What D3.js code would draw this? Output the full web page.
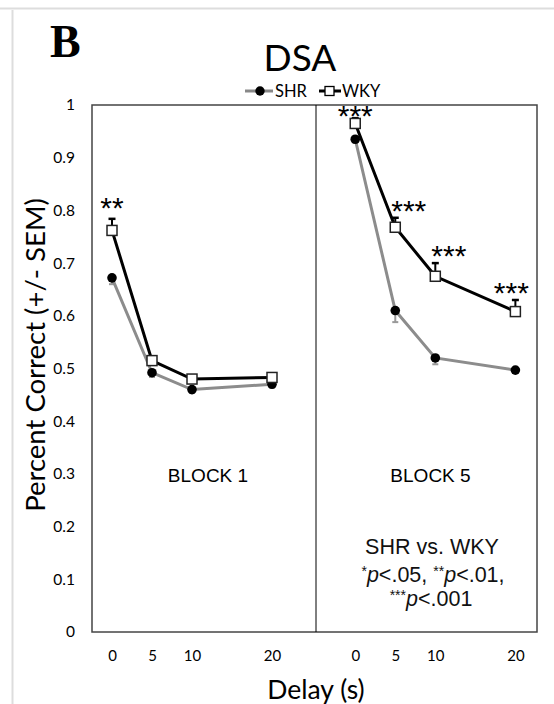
<!DOCTYPE html>
<html>
<head>
<meta charset="utf-8">
<script src="https://cdn.jsdelivr.net/npm/d3@7"></script>
<style>
  body { margin: 0; background: #fff; }
  svg { display: block; }
</style>
</head>
<body>
<script>
// data
const delays = [0, 5, 10, 20];
const blockNames = ["BLOCK 1", "BLOCK 5"];
const shrMean = [[0.672, 0.492, 0.460, 0.470], [0.935, 0.610, 0.520, 0.497]];
const shrSem  = [[0.012, 0.008, 0.006, 0.006], [0.006, 0.022, 0.012, 0.005]];
const wkyMean = [[0.762, 0.515, 0.480, 0.483], [0.965, 0.768, 0.675, 0.608]];
const wkySem  = [[0.022, 0.008, 0.005, 0.005], [0.010, 0.018, 0.025, 0.022]];
const yTicks = [0, 0.1, 0.2, 0.3, 0.4, 0.5, 0.6, 0.7, 0.8, 0.9, 1];
// significance marks: block, delay index, text
const sigMarks = [
  {block: 0, i: 0, text: "**"},
  {block: 1, i: 0, text: "***"},
  {block: 1, i: 1, text: "***"},
  {block: 1, i: 2, text: "***"},
  {block: 1, i: 3, text: "***"}
];

const width = 554, height = 704;
const calibri = "Lato, 'Open Sans', sans-serif";
const arial = "'Liberation Sans', Arial, sans-serif";

const svg = d3.select("body").append("svg")
  .attr("width", width)
  .attr("height", height);

// page frame
svg.append("line").attr("x1", 0).attr("x2", width).attr("y1", 8.5).attr("y2", 8.5)
  .attr("stroke", "#ddd").attr("stroke-width", 2);
svg.append("line").attr("x1", 12.5).attr("x2", 12.5).attr("y1", 10).attr("y2", height)
  .attr("stroke", "#ddd").attr("stroke-width", 2);

const plotTop = 105, plotBottom = 632, plotLeft = 92, plotMid = 316, plotRight = 537;

const y = d3.scaleLinear().domain([0, 1]).range([plotBottom, plotTop]);
const xs = [
  d3.scaleLinear().domain([-2.5, 25.5]).range([plotLeft, plotMid]),
  d3.scaleLinear().domain([-4.9, 22.7]).range([plotMid, plotRight])
];

// panel "B" letter + title
svg.append("text").attr("x", 50).attr("y", 57)
  .attr("font-family", "'Liberation Serif', 'DejaVu Serif', serif")
  .attr("font-weight", "bold").attr("font-size", 46).text("B");

svg.append("text").attr("x", 300).attr("y", 71).attr("text-anchor", "middle")
  .attr("font-family", calibri).attr("font-size", 37).text("DSA");

// legend
const legend = svg.append("g").attr("transform", "translate(0,91)");
legend.append("line").attr("x1", 245).attr("x2", 273).attr("stroke", "#888").attr("stroke-width", 3);
legend.append("circle").attr("cx", 260).attr("r", 4.7).attr("fill", "#000");
legend.append("text").attr("x", 275).attr("y", 6).attr("font-family", calibri).attr("font-size", 16.5).text("SHR");
legend.append("line").attr("x1", 319).attr("x2", 341).attr("stroke", "#000").attr("stroke-width", 3);
legend.append("rect").attr("x", 325).attr("y", -4.5).attr("width", 9).attr("height", 9)
  .attr("fill", "#fff").attr("stroke", "#000").attr("stroke-width", 1.3);
legend.append("text").attr("x", 342).attr("y", 6).attr("font-family", calibri).attr("font-size", 16.5).text("WKY");

// plot frame
svg.append("rect").attr("x", plotLeft).attr("y", plotTop)
  .attr("width", plotRight - plotLeft).attr("height", plotBottom - plotTop)
  .attr("fill", "none").attr("stroke", "#444").attr("stroke-width", 1.5);
svg.append("line").attr("x1", plotMid).attr("x2", plotMid).attr("y1", plotTop).attr("y2", plotBottom)
  .attr("stroke", "#000").attr("stroke-width", 1);

// y axis
const yAxis = d3.axisLeft(y).tickValues(yTicks).tickSize(0).tickPadding(17)
  .tickFormat(d => d === 0 || d === 1 ? String(d) : d.toFixed(1));
svg.append("g").attr("transform", `translate(${plotLeft},0)`).call(yAxis)
  .call(g => g.select(".domain").remove())
  .call(g => g.selectAll("text").attr("font-family", calibri).attr("font-size", 15.5).attr("fill", "#000"));

svg.append("text").attr("transform", "translate(45,355) rotate(-90)")
  .attr("text-anchor", "middle").attr("font-family", calibri).attr("font-size", 27.5)
  .text("Percent Correct (+/- SEM)");

// x axes
xs.forEach(x => {
  const xAxis = d3.axisBottom(x).tickValues(delays).tickSize(0).tickPadding(18);
  svg.append("g").attr("transform", `translate(0,${plotBottom})`).call(xAxis)
    .call(g => g.select(".domain").remove())
    .call(g => g.selectAll("text").attr("font-family", calibri).attr("font-size", 15).attr("fill", "#000"));
});

svg.append("text").attr("x", 316).attr("y", 699).attr("text-anchor", "middle")
  .attr("font-family", calibri).attr("font-size", 26.5).text("Delay (s)");

// series
const line = d3.line();
blockNames.forEach((name, b) => {
  const x = xs[b];
  const shrPts = delays.map((d, i) => [x(d), y(shrMean[b][i])]);
  const wkyPts = delays.map((d, i) => [x(d), y(wkyMean[b][i])]);

  // SHR error bars (downward)
  delays.forEach((d, i) => {
    const yb = y(shrMean[b][i] - shrSem[b][i]);
    svg.append("line").attr("x1", x(d)).attr("x2", x(d))
      .attr("y1", y(shrMean[b][i])).attr("y2", yb).attr("stroke", "#999").attr("stroke-width", 2);
    svg.append("line").attr("x1", x(d) - 3).attr("x2", x(d) + 3).attr("y1", yb).attr("y2", yb)
      .attr("stroke", "#999").attr("stroke-width", 2);
  });

  svg.append("path").attr("d", line(shrPts)).attr("fill", "none")
    .attr("stroke", "#8c8c8c").attr("stroke-width", 3);

  // WKY error bars (upward)
  delays.forEach((d, i) => {
    const yt = y(wkyMean[b][i] + wkySem[b][i]);
    svg.append("line").attr("x1", x(d)).attr("x2", x(d))
      .attr("y1", y(wkyMean[b][i])).attr("y2", yt).attr("stroke", "#000").attr("stroke-width", 2);
    svg.append("line").attr("x1", x(d) - 3.5).attr("x2", x(d) + 3.5).attr("y1", yt).attr("y2", yt)
      .attr("stroke", "#000").attr("stroke-width", 2.5);
  });

  svg.append("path").attr("d", line(wkyPts)).attr("fill", "none")
    .attr("stroke", "#000").attr("stroke-width", 3);

  svg.selectAll(null).data(shrPts).enter().append("circle")
    .attr("cx", p => p[0]).attr("cy", p => p[1]).attr("r", 4.8).attr("fill", "#000");

  svg.selectAll(null).data(wkyPts).enter().append("rect")
    .attr("x", p => p[0] - 5).attr("y", p => p[1] - 5).attr("width", 10).attr("height", 10)
    .attr("fill", "#fff").attr("stroke", "#222").attr("stroke-width", 1.5);

  const [r0, r1] = x.range();
  svg.append("text").attr("x", (r0 + r1) / 2 + 4).attr("y", 482).attr("text-anchor", "middle")
    .attr("font-family", arial).attr("font-size", 19).text(name);
});

// significance asterisks, above the WKY error bar
sigMarks.forEach(m => {
  const x = xs[m.block];
  const px = x(delays[m.i]);
  const barTop = y(wkyMean[m.block][m.i] + wkySem[m.block][m.i]);
  const centre = Math.max(barTop - (m.block === 0 ? 14 : 10), plotTop + 8);
  const middle = m.i === 1 || m.i === 2;
  svg.append("text")
    .attr("x", middle ? px - 4 : (m.i === 3 ? px - 4 : px))
    .attr("y", centre + 13)
    .attr("text-anchor", middle ? "start" : "middle")
    .attr("font-family", arial).attr("font-size", 30).text(m.text);
});

// stats note
const note = svg.append("text").attr("text-anchor", "middle")
  .attr("font-family", arial).attr("font-size", 21.5).attr("fill", "#111");
note.append("tspan").attr("x", 432).attr("y", 554).text("SHR vs. WKY");
const l2 = note.append("tspan").attr("x", 433).attr("y", 582);
l2.append("tspan").attr("font-size", 14).attr("dy", -6).text("*");
l2.append("tspan").attr("font-style", "italic").attr("dy", 6).text("p");
l2.append("tspan").text("<.05, ");
l2.append("tspan").attr("font-size", 14).attr("dy", -6).text("**");
l2.append("tspan").attr("font-style", "italic").attr("dy", 6).text("p");
l2.append("tspan").text("<.01,");
const l3 = note.append("tspan").attr("x", 431).attr("y", 606);
l3.append("tspan").attr("font-size", 14).attr("dy", -6).text("***");
l3.append("tspan").attr("font-style", "italic").attr("dy", 6).text("p");
l3.append("tspan").text("<.001");
</script>
</body>
</html>
